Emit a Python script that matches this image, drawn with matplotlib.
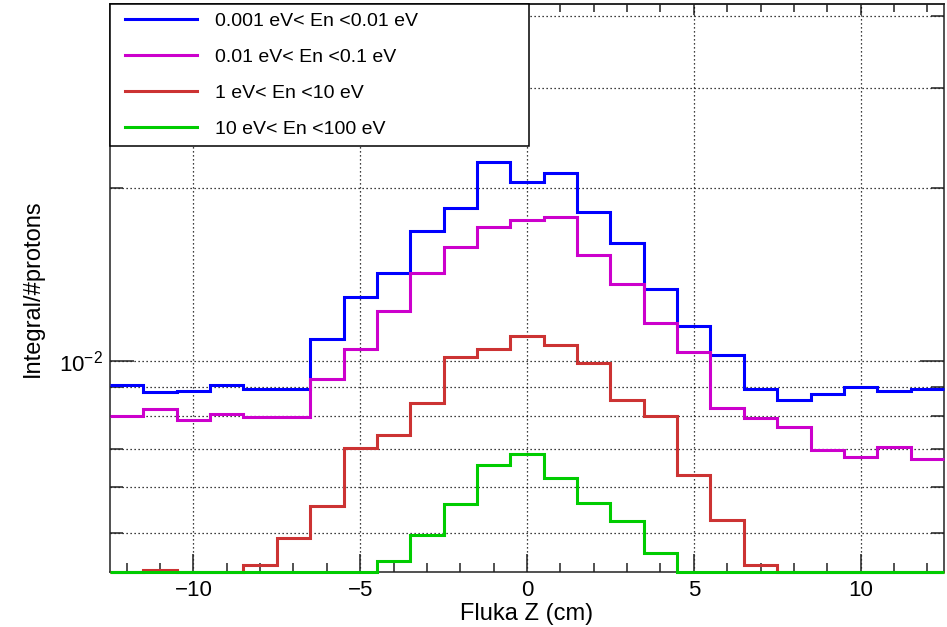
import matplotlib
matplotlib.use("Agg")
import matplotlib.pyplot as plt
from matplotlib.ticker import MultipleLocator, LogLocator, NullFormatter
from matplotlib.lines import Line2D
from matplotlib.legend_handler import HandlerLine2D
import numpy as np

plt.rcParams["font.family"] = ["Liberation Sans", "DejaVu Sans"]
plt.rcParams["axes.unicode_minus"] = True

# histogram binning: 25 bins of 1 cm from -12.5 to 12.5
bin_edges = np.arange(-12.5, 13.0, 1.0)

labels = ["0.001 eV< En <0.01 eV", "0.01 eV< En <0.1 eV",
          "1 eV< En <10 eV", "10 eV< En <100 eV"]
colors = ["#0000ff", "#cc00cc", "#cc3333", "#00cc00"]

# integral / #protons per bin (0 = empty bin)
blue_vals = [9.05e-3, 8.80e-3, 8.86e-3, 9.05e-3, 8.93e-3, 8.93e-3, 1.090e-2,
             1.293e-2, 1.421e-2, 1.684e-2, 1.850e-2, 2.226e-2, 2.051e-2,
             2.124e-2, 1.818e-2, 1.603e-2, 1.332e-2, 1.150e-2, 1.021e-2,
             8.91e-3, 8.53e-3, 8.73e-3, 9.00e-3, 8.84e-3, 8.93e-3]
magenta_vals = [8.00e-3, 8.23e-3, 7.88e-3, 8.07e-3, 7.96e-3, 7.96e-3, 9.29e-3,
                1.046e-2, 1.220e-2, 1.421e-2, 1.581e-2, 1.712e-2, 1.763e-2,
                1.784e-2, 1.527e-2, 1.361e-2, 1.164e-2, 1.034e-2, 8.27e-3,
                7.94e-3, 7.66e-3, 6.98e-3, 6.79e-3, 7.07e-3, 6.72e-3]
red_vals = [0, 4.30e-3, 0, 0, 4.40e-3, 4.90e-3, 5.57e-3,
            7.04e-3, 7.41e-3, 8.42e-3, 1.015e-2, 1.046e-2, 1.105e-2,
            1.066e-2, 9.91e-3, 8.53e-3, 8.01e-3, 6.32e-3, 5.26e-3,
            4.40e-3, 0, 0, 0, 0, 0]
green_vals = [0, 0, 0, 0, 0, 0, 0,
              0, 4.46e-3, 4.95e-3, 5.61e-3, 6.58e-3, 6.86e-3,
              6.24e-3, 5.63e-3, 5.24e-3, 4.61e-3, 0, 0,
              0, 0, 0, 0, 0, 0]

ymin, ymax = 4.27e-3, 4.2e-2

fig = plt.figure(figsize=(9.47, 6.27), dpi=100)
ax = fig.add_axes([110 / 947, 55 / 627, 834 / 947, 568 / 627])

series = [blue_vals, magenta_vals, red_vals, green_vals]
handles = []
for vals, c, lbl in zip(series, colors, labels):
    # empty bins are drawn on the lower frame like ROOT does
    v = np.clip(np.array(vals, dtype=float), ymin, None)
    ax.stairs(v, bin_edges, baseline=None, color=c, lw=2.2,
              clip_on=False, zorder=3)
    handles.append(Line2D([], [], color=c, lw=2.2, label=lbl))

ax.set_yscale("log")
ax.set_xlim(-12.5, 12.5)
ax.set_ylim(ymin, ymax)

ax.xaxis.set_major_locator(MultipleLocator(5))
ax.xaxis.set_minor_locator(MultipleLocator(1))
ax.yaxis.set_major_locator(LogLocator(base=10))
ax.yaxis.set_minor_locator(LogLocator(base=10, subs=np.arange(2, 10)))
ax.yaxis.set_minor_formatter(NullFormatter())

tick_col = "#222222"
ax.tick_params(axis="x", which="major", direction="in", length=13, width=1.1,
               labelsize=16, pad=6, color=tick_col)
ax.tick_params(axis="x", which="minor", direction="in", length=6.5, width=1.1,
               color=tick_col)
ax.tick_params(axis="y", which="major", direction="in", length=17, width=1.1,
               labelsize=16, pad=5, right=True, color=tick_col)
ax.tick_params(axis="y", which="minor", direction="in", length=9.5, width=1.1,
               right=True, color=tick_col)

# top axis has shorter ticks
top = ax.secondary_xaxis("top")
top.xaxis.set_major_locator(MultipleLocator(5))
top.xaxis.set_minor_locator(MultipleLocator(1))
top.tick_params(which="major", direction="in", length=8, width=1.1,
                labeltop=False, color=tick_col)
top.tick_params(which="minor", direction="in", length=5.5, width=1.1,
                color=tick_col)
top.spines["top"].set_linewidth(1.1)
top.spines["top"].set_color(tick_col)

for s in ax.spines.values():
    s.set_linewidth(1.1)
    s.set_color(tick_col)

ax.grid(True, which="major", axis="x", color="black", lw=0.9, ls=(0, (1, 2.2)))
ax.grid(True, which="both", axis="y", color="black", lw=0.9, ls=(0, (1, 2.2)))
ax.set_axisbelow(True)

ax.set_xlabel("Fluka Z (cm)", fontsize=17)
ax.xaxis.set_label_coords(0.5, -0.055)
ax.set_ylabel("Integral/#protons", fontsize=17)
ax.yaxis.set_label_coords(-0.079, 0.5)

leg = ax.legend(handles=handles, loc="upper left",
                bbox_to_anchor=(0, 0, 0.5024, 1),
                mode="expand", borderaxespad=0, fontsize=14,
                fancybox=False, framealpha=1, edgecolor="black",
                borderpad=0.43, labelspacing=0.94, handlelength=4.04,
                handletextpad=0.93,
                handler_map={Line2D: HandlerLine2D(xpad=0.34)})
leg.get_frame().set_linewidth(1.1)
leg.set_zorder(10)

fig.savefig("out.png", dpi=100, facecolor="white")
